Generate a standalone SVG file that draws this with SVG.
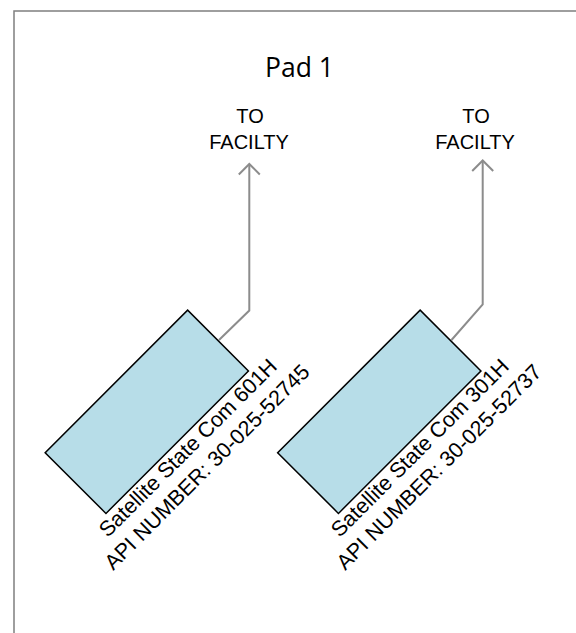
<svg xmlns="http://www.w3.org/2000/svg" width="576" height="633" viewBox="0 0 576 633">
  <style>
    .frame { fill: #ffffff; stroke: #7f7f7f; stroke-width: 1.5; }
    .well { fill: #b7dde8; stroke: #000000; stroke-width: 1.5; }
    .pipe { fill: none; stroke: #8c8c8c; stroke-width: 2; stroke-linejoin: miter; }
    .lbl { font-family: "Liberation Sans", Arial, sans-serif; font-size: 20px; fill: #000000; text-anchor: middle; }
    .wlbl { font-family: "Liberation Sans", Arial, sans-serif; font-size: 21.5px; fill: #000000; text-anchor: middle; }
    .title { font-family: "Open Sans", "Noto Sans", sans-serif; font-size: 26.5px; fill: #000000; text-anchor: middle; }
  </style>
  <defs>
    <marker id="open" viewBox="-12 -12 14 24" markerWidth="14" markerHeight="24" refX="0" refY="0" orient="auto" markerUnits="userSpaceOnUse">
      <path d="M -10.5 -10.5 L 0 0 L -10.5 10.5" fill="none" stroke="#8c8c8c" stroke-width="2"/>
    </marker>
  </defs>
  <rect class="frame" x="14" y="11" width="620" height="700"/>
  <g id="title">
    <text class="title" x="299.5" y="77">Pad 1</text>
  </g>
  <g id="dest1">
    <text class="lbl" x="250" y="123">TO</text>
    <text class="lbl" x="249" y="149">FACILTY</text>
  </g>
  <g id="dest2">
    <text class="lbl" x="476" y="123">TO</text>
    <text class="lbl" x="475" y="149">FACILTY</text>
  </g>
  <g id="connectors">
    <path class="pipe" d="M 219 340 L 249.3 310.5 L 249.3 164" marker-end="url(#open)"/>
    <path class="pipe" d="M 451.5 340 L 482.7 304.3 L 482.7 160.5" marker-end="url(#open)"/>
  </g>
  <g id="well601H">
    <rect class="well" x="-100.75" y="-43" width="201.5" height="86" transform="translate(146.8 411.8) rotate(-45)"/>
    <g transform="translate(193 453) rotate(-45)">
      <text class="wlbl" x="0" y="0">Satellite State Com 601H</text>
      <text class="wlbl" x="0" y="27">API NUMBER: 30-025-52745</text>
    </g>
  </g>
  <g id="well301H">
    <rect class="well" x="-100.75" y="-43" width="201.5" height="86" transform="translate(379.3 411.8) rotate(-45)"/>
    <g transform="translate(425 453) rotate(-45)">
      <text class="wlbl" x="0" y="0">Satellite State Com 301H</text>
      <text class="wlbl" x="0" y="27">API NUMBER: 30-025-52737</text>
    </g>
  </g>
</svg>
